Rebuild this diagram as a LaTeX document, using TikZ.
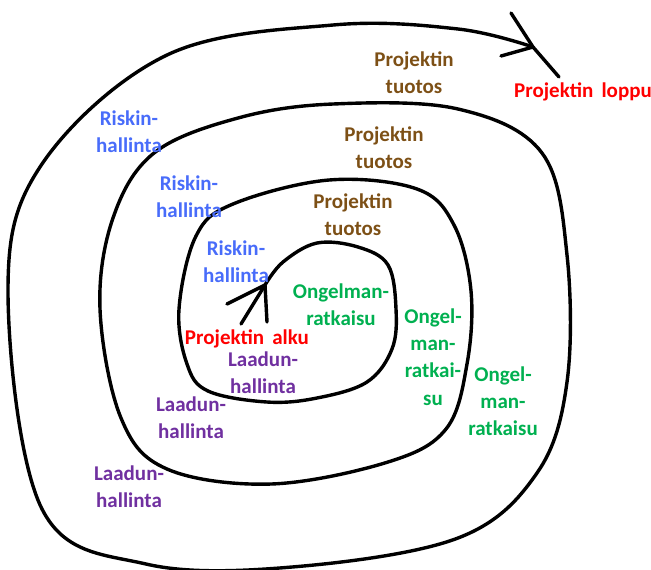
\documentclass[tikz,border=0pt]{standalone}
\usepackage{fontspec}
\setmainfont{Carlito}
\definecolor{riski}{RGB}{72,108,250}
\definecolor{tuotos}{RGB}{125,80,22}
\definecolor{ongel}{RGB}{0,176,80}
\definecolor{laatu}{RGB}{112,48,160}
\begin{document}
\begin{tikzpicture}[x=0.5pt, y=-0.5pt, line join=round, line cap=round,
 lbl/.style={align=center, inner sep=0pt, font=\fontsize{10.5}{13.6}\selectfont\bfseries},
 spir/.style={line width=1.7pt, black}]
 \useasboundingbox (0,0) rectangle (651,569);
 % spiraali keskelta ulos
 \draw[spir] (267,322) -- (265,285);
 \draw[spir] (227,304) -- (265,285) -- (241,324);
 \draw[spir, smooth, tension=0.6] plot coordinates {
 (265,285) (283,262) (317,243) (358,247) (388,265) (396,309) (392,349) (367,382)
 (317,398) (267,402) (208,391) (187,364) (179,309) (196,236) (233,204) (329,180)
 (417,189) (454,225) (471,291) (467,364) (446,429) (388,462) (271,484) (167,469)
 (121,418) (100,309) (113,218) (154,153) (238,118) (333,104) (458,109) (542,153)
 (567,255) (567,382) (537,473) (458,538) (292,567) (146,564) (42,509) (8,291)
 (42,164) (167,55) (333,25) (458,29) (533,47)};
 \draw[spir] (511,13) -- (533,47) -- (559,77);
 \draw[spir] (501,56) -- (533,47);
 % tekstit
 \node[lbl, text=tuotos] (tuotos3) at (414,73) {Projektin\\tuotos};
 \node[lbl, text=red] (loppu) at (583,92) {Projektin\, loppu};
 \node[lbl, text=riski] (riski3) at (129,132) {Riskin-\\hallinta};
 \node[lbl, text=tuotos] (tuotos2) at (384,148) {Projektin\\tuotos};
 \node[lbl, text=riski] (riski2) at (189,197) {Riskin-\\hallinta};
 \node[lbl, text=tuotos] (tuotos1) at (353,215) {Projektin\\tuotos};
 \node[lbl, text=riski] (riski1) at (236,262) {Riskin-\\hallinta};
 \node[lbl, text=ongel] (ongel1) at (341,305) {Ongelman-\\ratkaisu};
 \node[lbl, text=red] (alku) at (247,339) {Projektin\, alku};
 \node[lbl, text=laatu] (laatu1) at (263,373) {Laadun-\\hallinta};
 \node[lbl, text=ongel] (ongel2) at (433,357) {Ongel-\\man-\\ratkai-\\su};
 \node[lbl, text=ongel] (ongel3) at (503,401) {Ongel-\\man-\\ratkaisu};
 \node[lbl, text=laatu] (laatu2) at (191,418) {Laadun-\\hallinta};
 \node[lbl, text=laatu] (laatu3) at (129,487) {Laadun-\\hallinta};
\end{tikzpicture}
\end{document}
